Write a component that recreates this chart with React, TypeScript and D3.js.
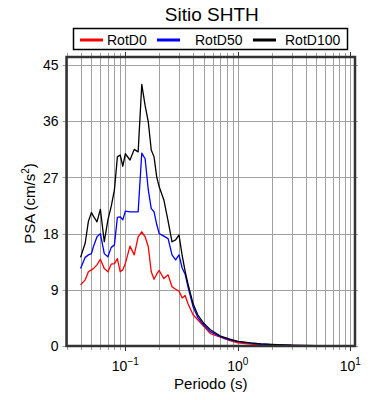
import { useRef, useEffect } from 'react';
import * as d3 from 'd3';

const periods = [0.04, 0.044, 0.047, 0.05, 0.052, 0.056, 0.06, 0.065, 0.07, 0.075, 0.08, 0.085, 0.09, 0.095, 0.1, 0.11, 0.12, 0.13, 0.14, 0.15, 0.16, 0.17, 0.18, 0.19, 0.2, 0.22, 0.24, 0.26, 0.28, 0.3, 0.32, 0.34, 0.36, 0.4, 0.44, 0.5, 0.57, 0.7, 0.85, 1.0, 1.3, 1.6, 2, 2.5, 3, 4, 5, 6, 7.5, 10];

const rotD0 = [9.8, 10.6, 11.9, 12.2, 12.4, 13, 13.9, 12.4, 11.9, 13.1, 13.2, 14, 11.9, 12.2, 13.2, 16, 14.6, 17.5, 18.3, 17.5, 15.9, 11.9, 10.7, 11.5, 12.1, 10.8, 11.4, 9.5, 9.1, 8.8, 7.7, 8.1, 6.8, 5.0, 4.2, 3.1, 2.0, 1.4, 0.85, 0.5, 0.3, 0.2, 0.15, 0.1, 0.08, 0.05, 0.04, 0.03, 0.03, 0.02];

const rotD50 = [12.4, 14.2, 14.6, 14.8, 15.9, 17.5, 18, 14.8, 14.3, 15.8, 16.2, 20.6, 20.7, 20.2, 21.6, 21.5, 21.5, 21.5, 30.9, 30, 25, 22, 21.5, 19.5, 18, 17.6, 17.2, 14.6, 13.8, 14.6, 12.5, 11.5, 9.5, 6.3, 4.6, 3.3, 2.3, 1.5, 1.0, 0.7, 0.45, 0.32, 0.22, 0.16, 0.11, 0.07, 0.05, 0.04, 0.035, 0.03];

const rotD100 = [14.2, 16.5, 20, 21.4, 20.8, 19.9, 21.9, 16.7, 20.2, 22.4, 25, 30.3, 30.6, 28.8, 30.8, 29.8, 31.5, 31.1, 41.9, 38.5, 35.9, 31.4, 30.3, 27.1, 25.5, 23.4, 20, 16.7, 17.0, 17.8, 14.5, 12, 10, 6.8, 5, 3.6, 2.6, 1.6, 1.1, 0.75, 0.5, 0.35, 0.25, 0.18, 0.12, 0.08, 0.06, 0.05, 0.04, 0.03];

const seriesNames = ['RotD0', 'RotD50', 'RotD100'];
const seriesColors = ['#ff0000', '#0000ff', '#000000'];
const yTicks = [0, 9, 18, 27, 36, 45];
const xDecades = [0.1, 1, 10];
const xExponents = ['\u22121', '0', '1'];

export default function App() {
  const ref = useRef<SVGSVGElement>(null);

  useEffect(() => {
    if (!ref.current) return;
    const width = 390;
    const height = 400;
    const svg = d3.select(ref.current);
    svg.selectAll('*').remove();

    const left = 66.5, right = 355, top = 57, bottom = 346;
    const font = 'Liberation Sans, Arial, sans-serif';

    const x = d3.scaleLog().domain([0.03, 11]).range([left, right]);
    const y = d3.scaleLinear().domain([0, 46.3]).range([bottom, top]);

    svg.append('rect').attr('width', width).attr('height', height).attr('fill', '#fff');

    // grid
    const grid = svg.append('g').attr('stroke', '#a0a0a0').attr('stroke-width', 1);
    x.ticks().forEach(t => {
      const xx = Math.round(x(t)) + 0.5;
      grid.append('line').attr('x1', xx).attr('x2', xx).attr('y1', top - 4).attr('y2', bottom + 4);
    });
    yTicks.forEach(t => {
      const yy = Math.round(y(t)) + 0.5;
      grid.append('line').attr('x1', left - 4).attr('x2', right + 3).attr('y1', yy).attr('y2', yy);
    });
    // major decade ticks
    xDecades.forEach(t => {
      const xx = Math.round(x(t)) + 0.5;
      svg.append('line').attr('x1', xx).attr('x2', xx).attr('y1', top - 5).attr('y2', top)
        .attr('stroke', '#333').attr('stroke-width', 1);
      svg.append('line').attr('x1', xx).attr('x2', xx).attr('y1', bottom).attr('y2', bottom + 5)
        .attr('stroke', '#333').attr('stroke-width', 1);
    });

    // series
    const line = d3.line<number>()
      .x((_, i) => x(periods[i]))
      .y(d => y(d));
    [rotD0, rotD50, rotD100].forEach((vals, i) => {
      svg.append('path')
        .datum(vals)
        .attr('fill', 'none')
        .attr('stroke', seriesColors[i])
        .attr('stroke-width', 1.3)
        .attr('stroke-linejoin', 'round')
        .attr('d', line);
    });

    // frame
    svg.append('rect')
      .attr('x', left).attr('y', top)
      .attr('width', right - left).attr('height', bottom - top)
      .attr('fill', 'none').attr('stroke', '#333').attr('stroke-width', 2.5);

    // y tick labels
    yTicks.forEach(t => {
      svg.append('text')
        .attr('x', left - 8).attr('y', y(t))
        .attr('dy', '0.36em')
        .attr('text-anchor', 'end')
        .attr('font-family', font).attr('font-size', 14)
        .text(t);
    });

    // x tick labels
    xDecades.forEach((t, i) => {
      const tx = svg.append('text')
        .attr('x', x(t)).attr('y', 371)
        .attr('text-anchor', 'middle')
        .attr('font-family', font).attr('font-size', 14);
      tx.append('tspan').text('10');
      tx.append('tspan').attr('dy', -6).attr('font-size', 10).text(xExponents[i]);
    });

    // axis titles
    svg.append('text')
      .attr('x', (left + right) / 2).attr('y', 389)
      .attr('text-anchor', 'middle')
      .attr('font-family', font).attr('font-size', 15)
      .text('Periodo (s)');

    const yl = svg.append('text')
      .attr('transform', `translate(35,${(top + bottom) / 2 + 2}) rotate(-90)`)
      .attr('text-anchor', 'middle')
      .attr('font-family', font).attr('font-size', 15);
    yl.append('tspan').text('PSA (cm/s');
    yl.append('tspan').attr('dy', -6).attr('font-size', 10).text('2');
    yl.append('tspan').attr('dy', 6).text(')');

    // title
    svg.append('text')
      .attr('x', (left + right) / 2 + 1).attr('y', 21)
      .attr('text-anchor', 'middle')
      .attr('font-family', font).attr('font-size', 19)
      .text('Sitio SHTH');

    // legend
    svg.append('rect')
      .attr('x', 73.5).attr('y', 28.5).attr('width', 274).attr('height', 21)
      .attr('fill', '#fff').attr('stroke', '#000').attr('stroke-width', 1.5);
    const legendX = [80, 157, 253];
    const legendTextX = [107, 195, 285];
    seriesNames.forEach((name, i) => {
      svg.append('line')
        .attr('x1', legendX[i]).attr('x2', legendX[i] + 23)
        .attr('y1', 40).attr('y2', 40)
        .attr('stroke', seriesColors[i]).attr('stroke-width', 3);
      svg.append('text')
        .attr('x', legendTextX[i]).attr('y', 40)
        .attr('dy', '0.36em')
        .attr('font-family', font).attr('font-size', 14)
        .text(name);
    });
  }, []);

  return <svg ref={ref} width={390} height={400} style={{ position: 'absolute', left: 0, top: 0, display: 'block' }}></svg>;
}
